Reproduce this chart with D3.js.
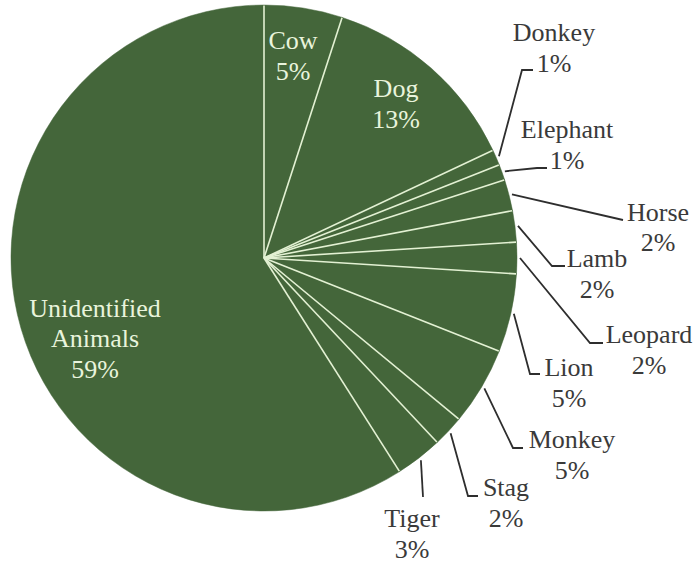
<!DOCTYPE html>
<html>
<head>
<meta charset="utf-8">
<script src="https://cdn.jsdelivr.net/npm/d3@7"></script>
<style>
  html, body { margin: 0; padding: 0; background: #ffffff; }
  svg { display: block; }
  text.label { font-family: "Liberation Serif", "Times New Roman", Times, serif; }
</style>
</head>
<body>
<svg id="chart" width="699" height="565"></svg>
<script>
// Share of recorded animal motifs, in percent, clockwise from 12 o'clock
const categories = ["Cow", "Dog", "Donkey", "Elephant", "Horse", "Lamb", "Leopard",
                    "Lion", "Monkey", "Stag", "Tiger", "Unidentified Animals"];
const shares = [5, 13, 1, 1, 2, 2, 2, 5, 5, 2, 3, 59];

// Labels drawn inside the pie (pale text); the rest sit outside with leader lines
const insideLabels = ["Cow", "Dog", "Unidentified Animals"];

const width = 699, height = 565;
const cx = 264, cy = 258, radius = 253;
const lineGap = 30.5;

const colors = {
  slice: "#44663a",
  divider: "#e3f1d3",
  insideText: "#e9f4dc",
  outsideText: "#3a3a3a",
  leader: "#2e2e2e"
};

// Label anchors: text centre x, first baseline y, leader elbow and end point
const labelLayout = {
  "Cow":      { x: 293, y: 49 },
  "Dog":      { x: 396, y: 97 },
  "Unidentified Animals": { x: 95, y: 316.5 },
  "Donkey":   { x: 554, y: 41,  elbow: [522, 70],  end: [533, 70] },
  "Elephant": { x: 567, y: 138, elbow: [537, 168], end: [547, 168] },
  "Horse":    { x: 658, y: 220.5, elbow: [623, 220], end: [623, 220] },
  "Lamb":     { x: 597, y: 267, elbow: [552, 266], end: [565, 266] },
  "Leopard":  { x: 649, y: 343, elbow: [590, 343], end: [603, 343] },
  "Lion":     { x: 569, y: 376, elbow: [530, 374], end: [540, 374] },
  "Monkey":   { x: 572, y: 448, elbow: [513, 448], end: [523, 448] },
  "Stag":     { x: 506, y: 496, elbow: [468, 496], end: [478, 496] },
  "Tiger":    { x: 412, y: 527, elbow: [423, 497], end: [423, 497] }
};

const data = categories.map((name, i) => ({ name, value: shares[i] }));

const svg = d3.select("#chart");
const g = svg.append("g").attr("transform", `translate(${cx},${cy})`);

const pie = d3.pie().value(d => d.value).sort(null);
const arcs = pie(data);

const arc = d3.arc().innerRadius(0).outerRadius(radius);

// Slices
g.selectAll("path.slice")
  .data(arcs)
  .enter().append("path")
  .attr("class", "slice")
  .attr("d", arc)
  .attr("fill", colors.slice)
  .attr("stroke", colors.slice)
  .attr("stroke-width", 0.5);

// Radial dividers between slices
g.selectAll("line.divider")
  .data(arcs)
  .enter().append("line")
  .attr("class", "divider")
  .attr("x1", 0).attr("y1", 0)
  .attr("x2", d => d3.pointRadial(d.startAngle, radius - 0.5)[0])
  .attr("y2", d => d3.pointRadial(d.startAngle, radius - 0.5)[1])
  .attr("stroke", colors.divider)
  .attr("stroke-width", 1.6);

// Leader lines for outside labels
const outside = arcs.filter(d => !insideLabels.includes(d.data.name));
svg.selectAll("path.leader")
  .data(outside)
  .enter().append("path")
  .attr("class", "leader")
  .attr("fill", "none")
  .attr("stroke", colors.leader)
  .attr("stroke-width", 1.8)
  .attr("d", d => {
    const mid = (d.startAngle + d.endAngle) / 2;
    const p = d3.pointRadial(mid, radius + 3);
    const L = labelLayout[d.data.name];
    return d3.line()([[cx + p[0], cy + p[1]], L.elbow, L.end]);
  });

// Labels: name (split onto lines at spaces) followed by the share
const fmt = v => `${v}%`;
const labels = svg.selectAll("text.label")
  .data(arcs)
  .enter().append("text")
  .attr("class", "label")
  .attr("text-anchor", "middle")
  .attr("font-size", 26)
  .attr("fill", d => insideLabels.includes(d.data.name) ? colors.insideText : colors.outsideText);

labels.each(function(d) {
  const L = labelLayout[d.data.name];
  const lines = d.data.name.split(" ").concat([fmt(d.data.value)]);
  d3.select(this).selectAll("tspan")
    .data(lines)
    .enter().append("tspan")
    .attr("x", L.x)
    .attr("y", (t, i) => L.y + i * lineGap)
    .text(t => t);
});
</script>
</body>
</html>
